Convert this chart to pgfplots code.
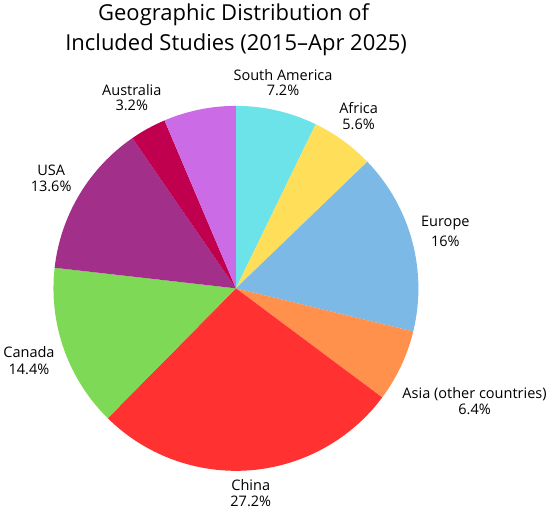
\documentclass[border=0pt]{standalone}
\usepackage{pgfplots}
\pgfplotsset{compat=1.18}
\usepackage{pgfplotstable}
\usepackage{fontspec}
\setmainfont{Open Sans}

\definecolor{cSA}{HTML}{6BE3E8}
\definecolor{cAF}{HTML}{FFDE59}
\definecolor{cEU}{HTML}{7DB9E6}
\definecolor{cAS}{HTML}{FF914D}
\definecolor{cCN}{HTML}{FF3131}
\definecolor{cCA}{HTML}{7ED957}
\definecolor{cUS}{HTML}{A2308A}
\definecolor{cAU}{HTML}{C0004F}
\definecolor{cOT}{HTML}{CB6CE6}

% share of studies (%), clockwise from 12 o'clock
\pgfplotstableread{
pct col
7.2 cSA
5.6 cAF
16 cEU
6.4 cAS
27.2 cCN
14.4 cCA
13.6 cUS
3.2 cAU
6.4 cOT
}\piedata

\begin{document}
\begin{tikzpicture}
\begin{axis}[
    width=550pt, height=510pt, scale only axis,
    xmin=0, xmax=550, ymin=0, ymax=510,
    y dir=reverse, hide axis, clip=false,
  ]
\gdef\cum{0}
\pgfplotsinvokeforeach{0,...,8}{
  \pgfplotstablegetelem{#1}{pct}\of\piedata \let\slpct\pgfplotsretval
  \pgfplotstablegetelem{#1}{col}\of\piedata \let\slcol\pgfplotsretval
  \pgfmathsetmacro\angA{90-3.6*\cum}
  \pgfmathsetmacro\angB{90-3.6*(\cum+\slpct)}
  \edef\cmd{\noexpand\fill[\slcol] (axis cs:235.3,288) -- ++(\angA:181pt)
    arc[start angle=\angA, end angle=\angB, radius=181pt] -- cycle;}
  \cmd
  \pgfmathsetmacro\tmp{\cum+\slpct}\xdef\cum{\tmp}
}

% title
\node[anchor=base, font=\fontsize{21.8}{26}\selectfont] at (axis cs:233,22) {Geographic Distribution of};
\node[anchor=base, font=\fontsize{21.8}{26}\selectfont] at (axis cs:235.5,52) {Included Studies (2015–Apr 2025)};

% labels
\tikzset{lbl/.style={anchor=base, font=\fontsize{14.4}{17}\selectfont}}
\node[lbl] at (axis cs:282,82) {South America};
\node[lbl] at (axis cs:282,97) {7.2\%};
\node[lbl] at (axis cs:357,115) {Africa};
\node[lbl] at (axis cs:357,130) {5.6\%};
\node[lbl] at (axis cs:443,227) {Europe};
\node[lbl] at (axis cs:443,246) {16\%};
\node[lbl] at (axis cs:472,397) {Asia (other countries)};
\node[lbl] at (axis cs:472,413) {6.4\%};
\node[lbl] at (axis cs:250,489) {China};
\node[lbl] at (axis cs:250,504) {27.2\%};
\node[lbl] at (axis cs:30,357) {Canada};
\node[lbl] at (axis cs:30,373) {14.4\%};
\node[lbl] at (axis cs:52,176) {USA};
\node[lbl] at (axis cs:52,192) {13.6\%};
\node[lbl] at (axis cs:132,97) {Australia};
\node[lbl] at (axis cs:132,112) {3.2\%};
\end{axis}
\end{tikzpicture}
\end{document}
